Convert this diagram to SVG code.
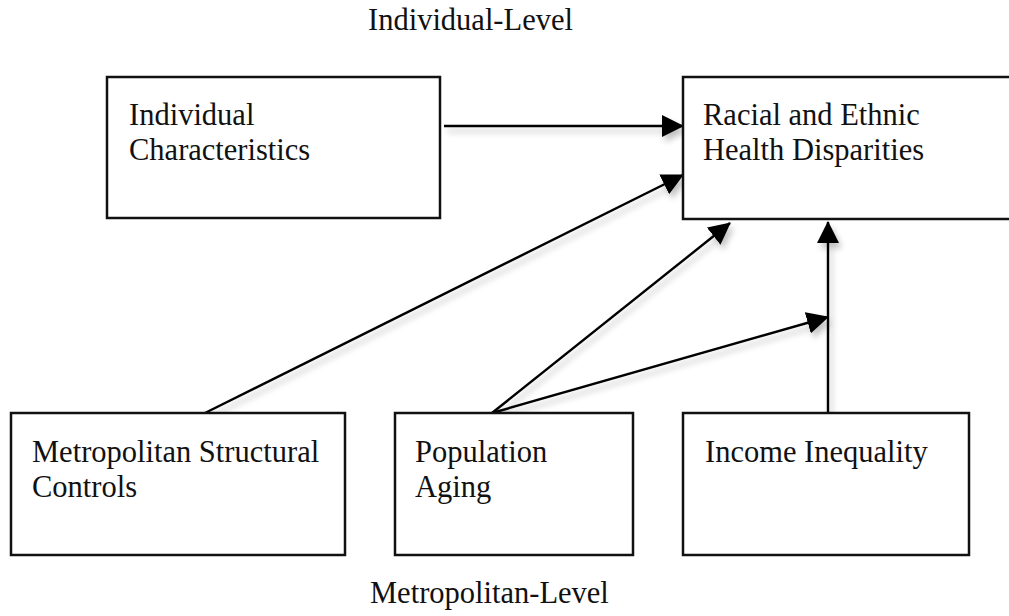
<svg xmlns="http://www.w3.org/2000/svg" width="1009" height="616" viewBox="0 0 1009 616">
<style>
.box{fill:#fff;stroke:#111;stroke-width:2.5}
.t{font-family:"Liberation Serif","Times New Roman",serif;font-size:30.5px;fill:#111}
.c{stroke:#000;stroke-width:2.4;fill:none;marker-end:url(#ah)}
</style>
<defs>
<marker id="ah" markerUnits="userSpaceOnUse" markerWidth="22" markerHeight="22" viewBox="0 0 22 22" refX="21" refY="11" orient="auto">
<path d="M0,0 L22,11 L0,22 z" fill="#000"/>
</marker>
<filter id="sh" x="-10%" y="-10%" width="130%" height="130%">
<feGaussianBlur in="SourceAlpha" stdDeviation="3"/>
<feOffset dx="3" dy="5" result="b"/>
<feComponentTransfer><feFuncA type="linear" slope="0.25"/></feComponentTransfer>
<feMerge><feMergeNode/><feMergeNode in="SourceGraphic"/></feMerge>
</filter>
</defs>
<rect width="1009" height="616" fill="#fff"/>
<text class="t" x="368" y="30">Individual-Level</text>
<text class="t" x="370" y="603">Metropolitan-Level</text>
<g id="connectors" filter="url(#sh)">
<line class="c" x1="444" y1="126" x2="683" y2="126"/>
<line class="c" x1="205" y1="413" x2="683" y2="175"/>
<line class="c" x1="492" y1="413" x2="730" y2="223"/>
<line class="c" x1="492" y1="413" x2="828" y2="317"/>
<line class="c" x1="828" y1="413" x2="828" y2="222"/>
</g>
<g id="individual">
<rect class="box" x="107" y="77" width="333" height="141"/>
<text class="t" x="129" y="125">Individual</text>
<text class="t" x="129" y="160">Characteristics</text>
</g>
<g id="disparities">
<rect class="box" x="683" y="77" width="340" height="142"/>
<text class="t" x="703" y="125">Racial and Ethnic</text>
<text class="t" x="703" y="160">Health Disparities</text>
</g>
<g id="controls">
<rect class="box" x="11" y="413" width="334" height="142"/>
<text class="t" x="32" y="462">Metropolitan Structural</text>
<text class="t" x="32" y="497">Controls</text>
</g>
<g id="aging">
<rect class="box" x="395" y="413" width="238" height="142"/>
<text class="t" x="415" y="462">Population</text>
<text class="t" x="415" y="497">Aging</text>
</g>
<g id="inequality">
<rect class="box" x="683" y="413" width="286" height="142"/>
<text class="t" x="705" y="462">Income Inequality</text>
</g>
</svg>
